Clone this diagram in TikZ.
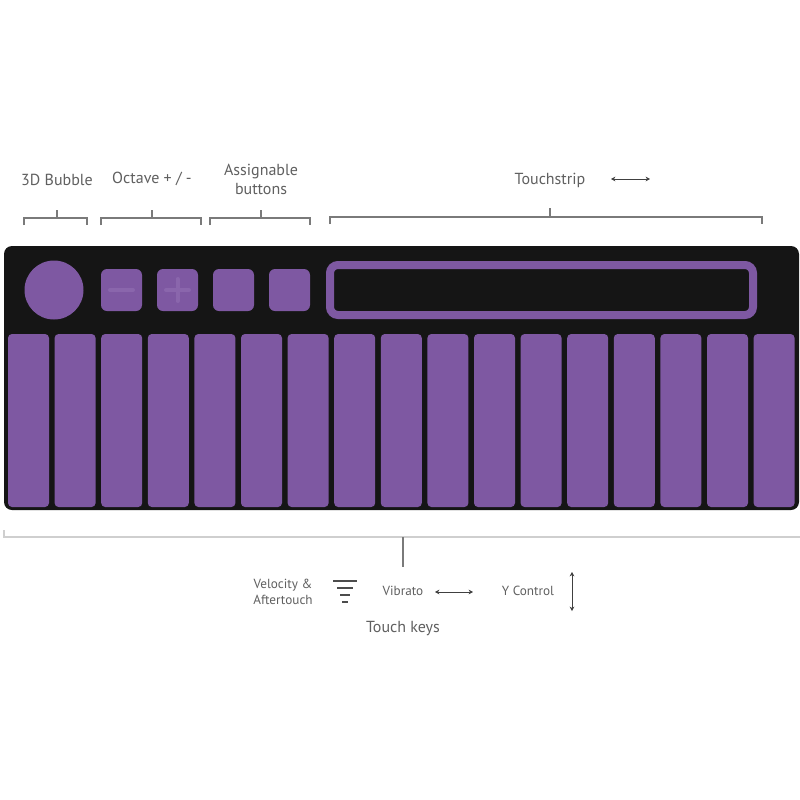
\documentclass[tikz,border=0pt]{standalone}
\usepackage{fontspec}
\setmainfont{PT Sans}
\usetikzlibrary{arrows.meta,positioning}
\definecolor{padpurple}{HTML}{7E58A2}
\definecolor{glyphpurple}{HTML}{8A66AC}
\definecolor{bodyblack}{HTML}{151515}
\definecolor{labelgray}{HTML}{606060}
\definecolor{bracketgray}{HTML}{7A7A7A}
\definecolor{rulegray}{HTML}{CFCFCF}

\begin{document}
\begin{tikzpicture}[
  x=0.5pt, y=-0.5pt, >=Stealth,
  lbl/.style={text=labelgray, font=\fontsize{8}{9.5}\selectfont, inner sep=0pt, align=center},
  smalllbl/.style={text=labelgray, font=\fontsize{6.6}{8}\selectfont, inner sep=0pt, align=center},
  bracket/.style={draw=bracketgray, line width=0.7pt},
  dimarrow/.style={draw=black!75, line width=0.5pt, {Stealth[length=2.2pt,width=2.4pt]}-{Stealth[length=2.2pt,width=2.4pt]}},
  keypad/.style={rectangle, fill=padpurple, rounded corners=2pt, minimum width=20.5pt, minimum height=86.5pt, inner sep=0pt},
  buttonpad/.style={rectangle, fill=padpurple, rounded corners=3pt, minimum width=20.5pt, minimum height=21pt, inner sep=0pt},
  glyph/.style={draw=glyphpurple, line width=2pt, line cap=round}
]

  % Canvas
  \fill[white] (0,0) rectangle (800,800);
  \useasboundingbox (0,0) rectangle (800,800);

  % Controller body
  \fill[bodyblack, rounded corners=4pt] (4,246) rectangle (799,510);

  % 3D bubble
  \node[circle, fill=padpurple, minimum size=29.5pt, inner sep=0pt] (bubble) at (54,290) {};

  % Octave and assignable buttons
  \node[buttonpad] (octminus) at (121.5,290) {};
  \node[buttonpad] (octplus) at (177.5,290) {};
  \node[buttonpad] (assignA) at (233.5,290) {};
  \node[buttonpad] (assignB) at (289.5,290) {};
  \draw[glyph] (110,290) -- (133,290);
  \draw[glyph] (166,290) -- (189,290);
  \draw[glyph] (177.5,279) -- (177.5,301);

  % Touchstrip
  \node[rectangle, draw=padpurple, line width=4pt, rounded corners=4pt,
        minimum width=211.5pt, minimum height=25pt, inner sep=0pt] (strip) at (541.5,290) {};

  % Touch keys
  \foreach \i in {1,...,17} {
    \node[keypad] (key\i) at ({28.5+46.6*(\i-1)},420.5) {};
  }

  % ==================== TOP LABELS ====================

  \node[lbl] (bubblelbl) at (57,180) {3D Bubble};
  \node[lbl] (octavelbl) at (152,179) {Octave + / -};
  \node[lbl] (assignlbl) at (261,179) {Assignable\\buttons};
  \node[lbl] (striplbl) at (550,180) {Touchstrip};

  % Brackets
  \draw[bracket] (24,225) |- (87,218) -- (87,225);
  \draw[bracket] (57,218) -- (57,210);
  \draw[bracket] (101,225) |- (201,218) -- (201,225);
  \draw[bracket] (152,218) -- (152,210);
  \draw[bracket] (210,225) |- (310,218) -- (310,225);
  \draw[bracket] (261,218) -- (261,210);
  \draw[bracket] (330,224) |- (762,217) -- (762,224);
  \draw[bracket] (550,217) -- (550,208);

  % Touchstrip direction
  \coordinate (stripL) at (611,179);
  \coordinate (stripR) at (650,179);
  \draw[dimarrow] (stripL) -- (stripR);

  % ==================== BOTTOM LABELS ====================

  \draw[draw=rulegray, line width=0.7pt] (4,530) |- (800,537);
  \draw[draw=bracketgray, line width=0.9pt] (403,537) -- (403,567);

  \node[smalllbl] (velocitylbl) at (283,592) {Velocity \&\\Aftertouch};
  \node[smalllbl] (vibratolbl) at (403,591) {Vibrato};
  \node[smalllbl] (ycontrollbl) at (528,591) {Y Control};
  \node[lbl] (touchkeyslbl) at (403,629) {Touch keys};

  % Velocity icon
  \draw[draw=black!70, line width=0.6pt] (333,581) -- (357,581)
    (337,588) -- (353,588) (340,595) -- (350,595) (342,602) -- (348,602);

  % Vibrato and Y direction
  \coordinate (vibL) at (435,592);
  \coordinate (vibR) at (473,592);
  \draw[dimarrow] (vibL) -- (vibR);
  \coordinate (yTop) at (572,572);
  \coordinate (yBot) at (572,611);
  \draw[dimarrow] (yTop) -- (yBot);

\end{tikzpicture}
\end{document}
